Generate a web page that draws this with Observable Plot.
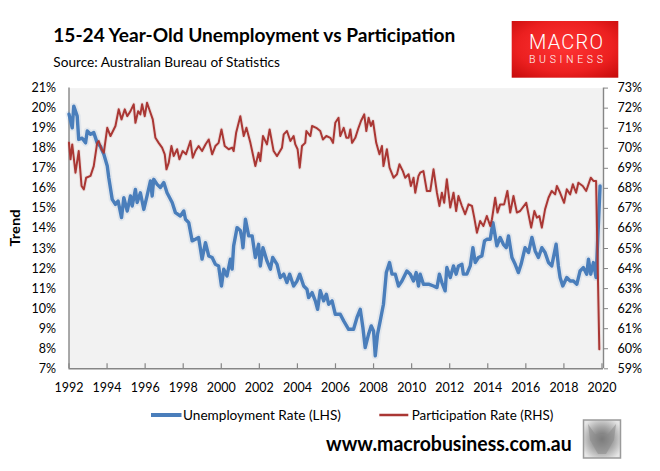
<!DOCTYPE html>
<html><head><meta charset="utf-8">
<script src="https://cdn.jsdelivr.net/npm/d3@7"></script>
<script src="https://cdn.jsdelivr.net/npm/@observablehq/plot@0.6"></script>
<style>
body{margin:0;background:#fff;}
#wrap{position:relative;width:660px;height:471px;overflow:hidden;font-family:Lato,"Open Sans",sans-serif;}
#wrap svg{position:absolute;left:0;top:0;}
</style></head><body><div id="wrap"></div>
<script>
// ---- data (decimal years) ----
const unempYear = [1992.0,1992.17,1992.25,1992.43,1992.51,1992.69,1992.87,1992.96,1993.13,1993.30,1993.48,1993.65,1993.83,1994.01,1994.09,1994.27,1994.44,1994.58,1994.76,1994.88,1995.06,1995.23,1995.32,1995.49,1995.58,1995.75,1995.93,1996.10,1996.28,1996.37,1996.45,1996.63,1996.80,1996.98,1997.15,1997.42,1997.59,1997.85,1998.03,1998.12,1998.29,1998.47,1998.64,1998.81,1998.99,1999.17,1999.34,1999.52,1999.69,1999.86,2000.01,2000.13,2000.30,2000.48,2000.57,2000.65,2000.83,2001.00,2001.09,2001.14,2001.27,2001.44,2001.62,2001.79,2001.96,2002.05,2002.19,2002.40,2002.58,2002.70,2002.93,2003.10,2003.28,2003.45,2003.59,2003.80,2003.98,2004.12,2004.33,2004.50,2004.59,2004.77,2004.94,2005.06,2005.20,2005.38,2005.52,2005.64,2005.82,2005.99,2006.25,2006.43,2006.69,2006.95,2007.13,2007.30,2007.44,2007.56,2007.74,2007.88,2008.00,2008.09,2008.21,2008.35,2008.52,2008.67,2008.84,2008.97,2009.14,2009.31,2009.49,2009.75,2009.93,2010.10,2010.24,2010.36,2010.45,2010.62,2010.89,2011.15,2011.33,2011.46,2011.59,2011.76,2011.85,2012.03,2012.20,2012.34,2012.46,2012.64,2012.72,2012.90,2013.08,2013.22,2013.34,2013.51,2013.69,2013.83,2013.95,2014.13,2014.27,2014.39,2014.48,2014.65,2014.82,2014.97,2015.09,2015.27,2015.44,2015.61,2015.75,2015.96,2016.14,2016.32,2016.49,2016.66,2016.84,2017.01,2017.19,2017.36,2017.59,2017.71,2017.80,2017.94,2018.15,2018.33,2018.50,2018.68,2018.85,2019.02,2019.20,2019.29,2019.41,2019.55,2019.69,2019.90];
const unempRate = [19.7,19.02,20.1,19.6,18.44,18.5,18.27,18.86,18.7,18.78,18.27,18.1,17.7,17.11,16.53,15.45,15.2,15.37,14.54,15.53,14.87,15.62,15.12,15.95,15.29,15.78,14.95,15.62,16.37,15.62,16.45,16.2,16.04,16.29,15.78,15.29,14.79,14.62,14.87,14.46,14.29,13.38,13.46,13.55,12.47,13.29,12.63,12.55,12.21,12.13,11.13,11.97,11.63,12.47,11.97,13.13,14.04,13.9,13.46,13.04,14.46,13.63,13.63,12.55,13.21,12.13,13.04,12.38,11.97,12.55,12.21,11.55,11.72,11.3,11.72,11.13,11.38,11.72,11.13,10.97,10.55,10.8,10.39,9.97,10.89,10.39,10.72,10.22,10.39,9.72,9.72,9.39,8.97,8.97,9.56,9.97,9.06,8.06,8.73,9.14,8.89,7.65,8.73,9.39,10.22,11.8,12.3,11.72,11.72,11.13,11.38,11.88,11.72,11.38,11.8,11.13,11.72,11.22,11.22,11.13,11.05,11.72,11.3,10.89,12.05,11.55,12.13,11.72,12.13,12.21,11.72,11.72,12.13,13.04,12.3,12.55,12.63,13.38,13.46,13.46,14.29,13.63,13.13,13.55,13.21,13.04,13.63,12.55,12.21,11.8,12.21,13.04,12.8,13.55,12.88,12.55,13.04,12.8,12.3,12.13,13.21,12.13,11.55,11.13,11.55,11.38,11.38,11.22,11.88,12.05,11.72,12.47,11.72,12.3,11.55,16.12];

const partYear = [1992.0,1992.08,1992.17,1992.34,1992.51,1992.66,1992.78,1992.90,1993.13,1993.30,1993.48,1993.56,1993.71,1993.83,1994.01,1994.18,1994.44,1994.61,1994.76,1994.93,1995.06,1995.23,1995.40,1995.49,1995.63,1995.75,1995.84,1995.98,1996.10,1996.28,1996.40,1996.54,1996.71,1996.89,1997.03,1997.12,1997.24,1997.38,1997.50,1997.68,1997.80,1997.97,1998.15,1998.38,1998.50,1998.64,1998.81,1998.99,1999.17,1999.34,1999.52,1999.69,1999.86,2000.01,2000.18,2000.39,2000.57,2000.65,2000.78,2001.00,2001.18,2001.32,2001.53,2001.79,2001.96,2002.05,2002.19,2002.40,2002.54,2002.75,2002.93,2003.19,2003.28,2003.45,2003.63,2003.80,2003.89,2004.01,2004.12,2004.24,2004.41,2004.47,2004.68,2004.77,2004.99,2005.20,2005.34,2005.52,2005.73,2005.87,2005.99,2006.16,2006.25,2006.43,2006.57,2006.69,2006.78,2006.87,2007.04,2007.21,2007.34,2007.51,2007.62,2007.74,2007.86,2007.97,2008.14,2008.31,2008.44,2008.52,2008.70,2008.84,2009.05,2009.23,2009.36,2009.54,2009.66,2009.84,2009.96,2010.10,2010.19,2010.36,2010.45,2010.62,2010.80,2010.98,2011.15,2011.33,2011.46,2011.59,2011.71,2011.85,2012.03,2012.20,2012.34,2012.46,2012.64,2012.81,2012.99,2013.17,2013.29,2013.43,2013.60,2013.77,2013.95,2014.13,2014.22,2014.39,2014.51,2014.65,2014.86,2015.03,2015.18,2015.35,2015.53,2015.70,2016.02,2016.14,2016.28,2016.45,2016.58,2016.71,2016.84,2017.01,2017.19,2017.36,2017.54,2017.63,2017.80,2018.01,2018.15,2018.33,2018.47,2018.64,2018.76,2018.99,2019.17,2019.29,2019.41,2019.55,2019.69,2019.86];
const partRate = [70.27,69.45,70.19,68.78,69.86,68.12,67.95,68.53,68.62,69.11,70.27,70.36,69.95,69.78,71.02,70.61,71.11,71.94,71.44,71.94,71.6,71.85,72.19,71.27,71.85,71.69,72.19,71.6,72.27,71.77,71.44,70.52,70.27,70.03,69.7,68.95,69.28,70.11,69.61,69.95,69.45,69.86,69.7,70.36,69.53,69.86,70.11,69.86,70.19,70.44,69.7,70.11,70.27,70.94,70.11,69.95,70.03,69.86,70.77,71.6,70.61,71.02,70.27,69.11,69.78,69.36,70.61,70.19,70.94,69.86,69.61,70.03,70.69,70.86,70.36,70.61,70.19,69.95,69.03,70.11,70.27,70.86,70.61,71.11,71.02,70.86,70.44,70.61,70.52,70.27,71.27,71.52,70.61,71.02,70.52,70.52,70.94,70.27,70.52,71.02,71.36,71.69,70.86,71.52,71.11,71.36,70.27,69.7,70.11,69.11,69.95,69.03,68.53,68.7,69.2,68.86,68.53,68.7,68.12,68.53,67.78,68.62,68.78,68.86,67.87,67.87,68.95,67.78,67.12,67.78,67.28,68.45,67.04,67.78,66.87,67.62,67.12,66.71,67.2,67.12,66.54,65.79,66.37,66.12,66.62,66.12,66.46,67.53,66.79,67.2,67.2,67.87,66.79,67.62,66.79,66.87,67.28,66.71,66.04,66.87,66.54,66.62,66.04,66.95,67.53,67.87,67.7,68.12,67.78,67.28,67.95,67.7,68.2,67.78,68.28,68.12,67.87,68.2,68.53,68.37,68.37,59.98];

const xTicks = d3.range(1992, 2021, 2);
const leftTicks = d3.range(7, 22);      // 7% .. 21%
const rightTicks = d3.range(59, 74);    // 59% .. 73%
const leftDomain = [7, 21];
const rightDomain = [59, 73];
const xDomain = [1992, 2020.08];

const toLeft = d3.scaleLinear(rightDomain, leftDomain);
const toRight = d3.scaleLinear(leftDomain, rightDomain);

const unemp = unempYear.map((year, i) => ({year, rate: unempRate[i]}));
const part = partYear.map((year, i) => ({year, rate: partRate[i]}));

const BLUE = "#4a7ebb", RED = "#aa3734", AX = "#868686";

const chart = Plot.plot({
  width: 660, height: 471,
  marginLeft: 68.5, marginRight: 57, marginTop: 87.6, marginBottom: 102.7,
  style: {fontFamily: "Lato, 'Open Sans', sans-serif", fontSize: "12.5px", color: "#000", background: "transparent", overflow: "visible"},
  x: {domain: xDomain},
  y: {domain: leftDomain},
  marks: [
    Plot.frame({fill: "#f2f2f2", stroke: null}),
    Plot.ruleX(xTicks, {y1: leftDomain[0], y2: leftDomain[0] + 0.25, stroke: AX, strokeWidth: 1.2}),
    Plot.ruleY([leftDomain[0]], {stroke: AX, strokeWidth: 1.4}),
    Plot.ruleX([xDomain[0]], {stroke: AX, strokeWidth: 1.4}),
    Plot.ruleX([xDomain[1]], {stroke: AX, strokeWidth: 1.4}),
    Plot.axisX({ticks: xTicks, tickFormat: d => String(d), tickSize: 0, tickPadding: 14, label: null}),
    Plot.axisY({ticks: leftTicks, tickFormat: d => d + "%", tickSize: 0, tickPadding: 13, label: null}),
    Plot.axisY({anchor: "right", ticks: leftTicks, tickFormat: d => Math.round(toRight(d)) + "%", tickSize: 4, tickPadding: 10, stroke: AX, label: null}),
    Plot.line(unemp, {x: "year", y: "rate", stroke: BLUE, strokeOpacity: 0.1, strokeWidth: 7, strokeLinejoin: "round"}),
    Plot.line(unemp, {x: "year", y: "rate", stroke: BLUE, strokeWidth: 3.4, strokeLinejoin: "round"}),
    Plot.line(part, {x: "year", y: d => toLeft(d.rate), stroke: RED, strokeOpacity: 0.1, strokeWidth: 4, strokeLinejoin: "round"}),
    Plot.line(part, {x: "year", y: d => toLeft(d.rate), stroke: RED, strokeWidth: 2, strokeLinejoin: "round"})
  ]
});
document.getElementById("wrap").appendChild(chart);

// ---- overlay: titles, logo, legend, footer ----
const svg = d3.select("#wrap").append("svg").attr("width", 660).attr("height", 471)
  .style("font-family", "Lato, 'Open Sans', sans-serif");
const defs = svg.append("defs");
const rg = defs.append("radialGradient").attr("id", "logoGrad").attr("cx", "50%").attr("cy", "45%").attr("r", "75%");
rg.append("stop").attr("offset", "0%").attr("stop-color", "#ff3434");
rg.append("stop").attr("offset", "60%").attr("stop-color", "#ec2020");
rg.append("stop").attr("offset", "100%").attr("stop-color", "#c40a0a");
const wg = defs.append("radialGradient").attr("id", "wolfGrad").attr("cx", "50%").attr("cy", "50%").attr("r", "60%");
wg.append("stop").attr("offset", "0%").attr("stop-color", "#6a6a6a");
wg.append("stop").attr("offset", "55%").attr("stop-color", "#a8a8a8");
wg.append("stop").attr("offset", "100%").attr("stop-color", "#e6e6e6");

function text(x, y, s, o = {}) {
  const t = svg.append("text").attr("x", x).attr("y", y).text(s)
    .attr("font-size", o.size || 13).attr("font-weight", o.weight || 400)
    .attr("fill", o.fill || "#000");
  if (o.family) t.attr("font-family", o.family);
  if (o.len) t.attr("textLength", o.len).attr("lengthAdjust", o.adjust || "spacingAndGlyphs");
  if (o.anchor) t.attr("text-anchor", o.anchor);
  if (o.transform) t.attr("transform", o.transform);
  return t;
}

text(53.3, 41.7, "15-24 Year-Old Unemployment vs Participation", {size: 19, weight: 700, len: 402});
text(53.3, 66.7, "Source: Australian Bureau of Statistics", {size: 13, len: 226.7});

svg.append("rect").attr("x", 511.7).attr("y", 21).attr("width", 106.6).attr("height", 56.7).attr("fill", "url(#logoGrad)");
text(529, 49.3, "MACRO", {size: 20, weight: 300, fill: "#fff", family: "Roboto, sans-serif", len: 74, adjust: "spacing"});
text(529, 63.3, "BUSINESS", {size: 10.5, weight: 300, fill: "#fff", family: "Roboto, sans-serif", len: 74, adjust: "spacing"});

text(0, 0, "Trend", {size: 13, weight: 700, anchor: "middle", transform: "translate(20,228) rotate(-90)", len: 37});

// legend
svg.append("line").attr("x1", 151).attr("x2", 181.5).attr("y1", 415).attr("y2", 415).attr("stroke", BLUE).attr("stroke-width", 4);
text(183, 419.5, "Unemployment Rate (LHS)", {size: 13, len: 158});
svg.append("line").attr("x1", 379.3).attr("x2", 408.3).attr("y1", 415).attr("y2", 415).attr("stroke", RED).attr("stroke-width", 2.5);
text(411.7, 419.5, "Participation Rate (RHS)", {size: 13, len: 141.6});

// footer
text(326, 451, "www.macrobusiness.com.au", {size: 21, weight: 700, len: 245.7});
svg.append("rect").attr("x", 583.5).attr("y", 420).attr("width", 37).attr("height", 38)
  .attr("fill", "url(#wolfGrad)").attr("stroke", "#9a9a9a").attr("stroke-width", 1.5);
svg.append("path").attr("d", "M588,424 L595,434 L608,434 L616,424 L614,440 L606,454 L598,454 L590,440 Z")
  .attr("fill", "#8a8a8a").attr("fill-opacity", 0.55);
</script></body></html>
